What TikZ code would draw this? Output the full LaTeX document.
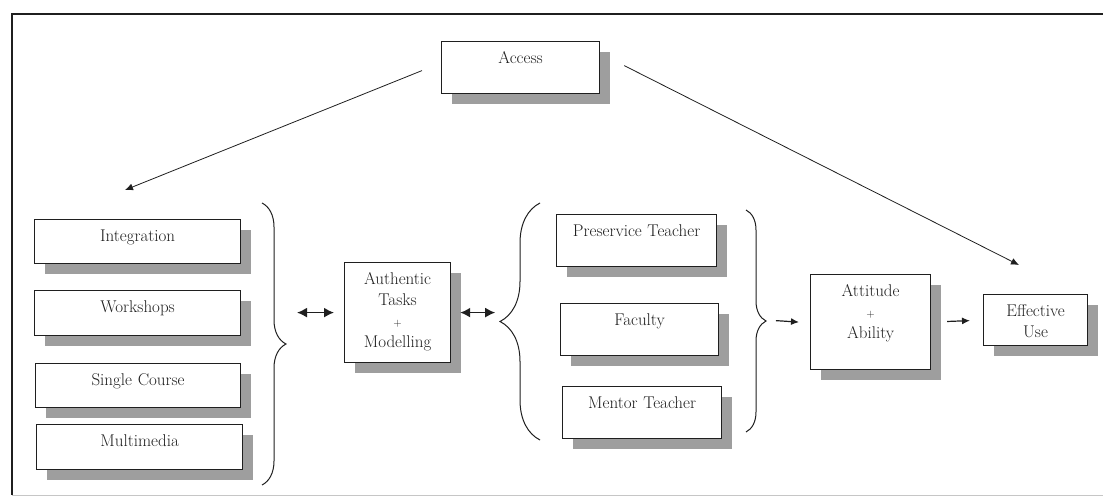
\documentclass[tikz,border=0pt]{standalone}
\usetikzlibrary{shadows,decorations.pathreplacing,arrows.meta,calc}
\definecolor{shade}{gray}{0.62}
\definecolor{ink}{gray}{0.12}
\begin{document}
\begin{tikzpicture}[x=1pt,y=-1pt,
  box/.style={draw=ink, line width=1.2pt, fill=white, inner sep=0pt, text height=22pt,
     align=center, anchor=north west, font=\fontsize{17}{21}\selectfont, text=ink,
     drop shadow={shadow xshift=10pt, shadow yshift=-10pt, fill=shade, opacity=1}},
  arr/.style={draw=ink, line width=1pt, -{Latex[length=8pt,width=7pt]}},
  darr/.style={draw=ink, line width=1.6pt, {Latex[length=10pt,width=10pt]}-{Latex[length=10pt,width=10pt]}},
  brc/.style={draw=ink, line width=1pt, decorate, decoration={brace, amplitude=#1}}
]
\useasboundingbox (0,0) rectangle (1103,497);
% frame
\draw[ink, line width=1.5pt] (1103,14) -- (12,14) -- (12,495);
\draw[gray!45, line width=0.8pt] (12,495) -- (1103,495);

% boxes
\node[box, text width=158pt, text depth=30pt] (access) at (441,41) {Access};

\node[box, text width=206pt, text depth=22pt] (integ) at (34,219) {Integration};
\node[box, text width=206pt, text depth=23pt] (works) at (34,290) {Workshops};
\node[box, text width=205pt, text depth=22pt] (single) at (35,363) {Single Course};
\node[box, text width=206pt, text depth=23pt] (multi) at (36,424) {Multimedia};

\node[box, text width=106pt, text depth=78pt] (auth) at (344,262)
  {Authentic\\Tasks\\{\fontsize{11}{21}\selectfont +}\\Modelling};

\node[box, text width=160pt, text depth=30pt] (pre) at (556,214) {Preservice Teacher};
\node[box, text width=158pt, text depth=30pt] (fac) at (560,303) {Faculty};
\node[box, text width=159pt, text depth=30pt] (men) at (562,386) {Mentor Teacher};

\node[box, text width=120pt, text depth=73pt] (att) at (810,274)
  {Attitude\\{\fontsize{11}{21}\selectfont +}\\Ability};
\node[box, text width=104pt, text depth=29pt] (eff) at (983,294) {Effective\\Use};

% braces
\draw[brc=24pt] (262,203) -- (262,485);
\draw[brc=40pt] (540,440) -- (540,203);
\draw[brc=20pt] (746,210) -- (746,432);
\coordinate (b1) at (286,344);
\coordinate (b2) at (500,321);
\coordinate (b3) at (766,320);

% arrows from Access
\coordinate (tipL) at (125,190);
\coordinate (tipR) at (1019,265);
\draw[arr, line width=0.8pt] ($(access.west)+(-19,3)$) -- (tipL);
\draw[arr, line width=0.8pt] ($(access.east)+(24,-2)$) -- (tipR);

% main flow
\draw[darr] ([xshift=-47pt]auth.west) -- ([xshift=-10pt]auth.west);
\draw[darr] ([xshift=9pt]auth.east) -- ([xshift=44pt]auth.east);
\draw[arr, line width=1.2pt, shorten <=10pt] (b3) -- ([xshift=-11pt]att.west);
\draw[arr, line width=1.2pt, shorten <=16pt, shorten >=13pt] (att.east) -- (eff.west);
\end{tikzpicture}
\end{document}
